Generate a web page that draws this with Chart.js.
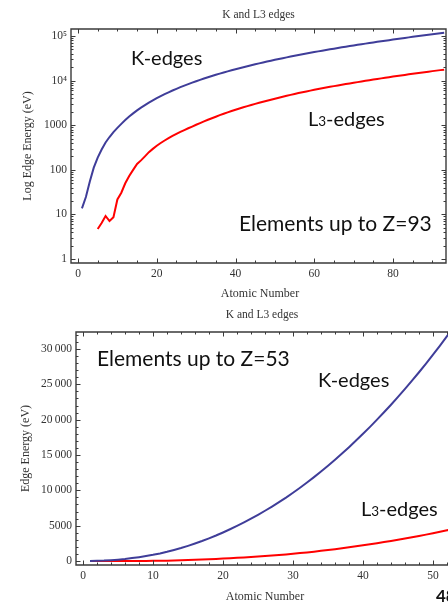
<!DOCTYPE html>
<html><head><meta charset="utf-8">
<script src="https://cdn.jsdelivr.net/npm/chart.js@4/dist/chart.umd.min.js"></script>
<style>
html,body{margin:0;padding:0;background:#fff;overflow:hidden;width:448px;height:604px}
canvas{display:block}
</style></head><body>
<canvas id="topChart" width="448" height="300"></canvas>
<canvas id="bottomChart" width="448" height="304"></canvas>
<script>
// ---------- data ----------
const atomicNumbers = Array.from({length: 93}, (_, i) => i + 1);
const kEdges = [
  13.6, 24.6, 54.7, 111.5, 188, 284.2, 409.9, 543.1, 696.7, 870.2,
  1070.8, 1303, 1559.6, 1839, 2145.5, 2472, 2822.4, 3205.9, 3608.4, 4038.5,
  4492, 4966, 5465, 5989, 6539, 7112, 7709, 8333, 8979, 9659,
  10367, 11103, 11867, 12658, 13474, 14326, 15200, 16105, 17038, 17998,
  18986, 20000, 21044, 22117, 23220, 24350, 25514, 26711, 27940, 29200,
  30491, 31814, 33169, 34561, 35985, 37441, 38925, 40443, 41991, 43569,
  45184, 46834, 48519, 50239, 51996, 53789, 55618, 57486, 59390, 61332,
  63314, 65351, 67416, 69525, 71676, 73871, 76111, 78395, 80725, 83102,
  85530, 88005, 90526, 93105, 95730, 98404, 101137, 103922, 106755, 109651,
  112601, 115606, 118678
];
const l3Edges = [
  null, null, null, null, 4.7, 6.4, 9.2, 7.1, 8.6, 21.6,
  30.6, 49.8, 72.6, 99.4, 135, 162.5, 200, 248.4, 294.6, 346.2,
  398.7, 453.8, 512.1, 574.1, 638.7, 706.8, 778.1, 852.7, 932.7, 1021.8,
  1116.4, 1217, 1323.6, 1433.9, 1550, 1678.4, 1804, 1940, 2080, 2222.3,
  2371, 2520, 2677, 2838, 3004, 3173, 3351, 3538, 3730, 3929,
  4132, 4341, 4557, 4786, 5012, 5247, 5483, 5723, 5964, 6208,
  6459, 6716, 6977, 7243, 7514, 7790, 8071, 8358, 8648, 8944,
  9244, 9561, 9881, 10207, 10535, 10871, 11215, 11564, 11919, 12284,
  12658, 13035, 13419, 13814, 14214, 14619, 15031, 15444, 15871, 16300,
  16733, 17166, 17610
];
// in the linear plot the L3 curve starts at Z=1 on the zero line
const l3EdgesLowZ = [0, 0, 0, 0];

const logTickValues = [1, 10, 100, 1000, 10000, 100000];
const logTickLabels = ['1', '10', '100', '1000', '10\u2074', '10\u2075'];
const linTickValues = [0, 5000, 10000, 15000, 20000, 25000, 30000];
const linTickLabels = ['0', '5000', '10\u2009000', '15\u2009000', '20\u2009000', '25\u2009000', '30\u2009000'];
const topXTickValues = [0, 20, 40, 60, 80];
const bottomXTickValues = [0, 10, 20, 30, 40, 50];

const chartTitle = 'K and L3 edges';
const xTitle = 'Atomic Number';
const topYTitle = 'Log Edge Energy (eV)';
const bottomYTitle = 'Edge Energy (eV)';

// ---------- styles ----------
const INK = '#3a3a3a';
const BLUE = '#3f3d99';
const RED = '#ff0000';
const SERIF = '"Liberation Serif", "DejaVu Serif", serif';
const SANS = 'Lato, "Open Sans", sans-serif';

function range(a, b, step) { const r = []; for (let v = a; v <= b + 1e-9; v += step) r.push(+v.toFixed(6)); return r; }
const topXMinor = range(0, 90, 5).filter(v => v % 20 !== 0);
const bottomXMinor = range(0, 52, 2).filter(v => v % 10 !== 0);
const logMinor = [];
logTickValues.forEach(d => { for (let m = 2; m <= 9; m++) logMinor.push(d * m); });
const linMinor = range(0, 32000, 1000).filter(v => v % 5000 !== 0);

function pts(zs, vs) { return zs.map((z, i) => ({x: z, y: vs[i]})); }

function framePlugin(cfg) {
  return {
    id: 'frame',
    afterDraw(chart) {
      const {ctx, chartArea: a, scales: {x, y}} = chart;
      ctx.save();
      ctx.strokeStyle = INK;
      ctx.lineWidth = 1;
      const MAJ = 4.5, MIN = 2.5;
      const xt = [[cfg.xMajor, MAJ], [cfg.xMinor, MIN]];
      const yt = [[cfg.yMajor, MAJ], [cfg.yMinor, MIN]];
      ctx.beginPath();
      xt.forEach(([vals, len]) => vals.forEach(v => {
        const px = Math.round(x.getPixelForValue(v)) + 0.5;
        if (px < a.left || px > a.right) return;
        ctx.moveTo(px, a.bottom); ctx.lineTo(px, a.bottom - len);
        ctx.moveTo(px, a.top); ctx.lineTo(px, a.top + len);
      }));
      yt.forEach(([vals, len]) => vals.forEach(v => {
        const py = Math.round(y.getPixelForValue(v)) + 0.5;
        if (py < a.top || py > a.bottom) return;
        ctx.moveTo(a.left, py); ctx.lineTo(a.left + len, py);
        if (cfg.right) { ctx.moveTo(a.right, py); ctx.lineTo(a.right - len, py); }
      }));
      ctx.stroke();
      ctx.lineWidth = 1.4;
      ctx.beginPath();
      if (cfg.right) {
        ctx.rect(a.left, a.top, a.right - a.left, a.bottom - a.top);
      } else {
        ctx.moveTo(a.right + 2, a.top); ctx.lineTo(a.left, a.top);
        ctx.lineTo(a.left, a.bottom); ctx.lineTo(a.right + 2, a.bottom);
      }
      ctx.stroke();

      // axis titles
      ctx.fillStyle = '#333';
      ctx.font = '12px ' + SERIF;
      ctx.textAlign = 'center';
      ctx.textBaseline = 'middle';
      ctx.fillText(xTitle, (a.left + a.right) / 2 + cfg.xTitleDx, cfg.xTitleY);
      ctx.save();
      ctx.translate(cfg.yTitleX, (a.top + a.bottom) / 2);
      ctx.rotate(-Math.PI / 2);
      ctx.fillText(cfg.yTitle, 0, 0);
      ctx.restore();

      // annotations
      ctx.fillStyle = '#111';
      ctx.textAlign = 'left';
      ctx.textBaseline = 'alphabetic';
      cfg.notes.forEach(n => {
        let cx = n.x;
        n.parts.forEach(p => {
          ctx.font = (p.bold ? 'bold ' : '') + p.size + 'px ' + (p.family || SANS);
          ctx.fillText(p.t, cx, n.y);
          cx += ctx.measureText(p.t).width;
        });
      });
      ctx.restore();
    }
  };
}

function makeChart(id, o) {
  return new Chart(document.getElementById(id), {
    type: 'line',
    data: {
      datasets: [
        {data: o.k, borderColor: BLUE, borderWidth: 2, pointRadius: 0, tension: 0, fill: false},
        {data: o.l3, borderColor: RED, borderWidth: 2, pointRadius: 0, tension: 0, fill: false}
      ]
    },
    options: {
      responsive: false,
      animation: false,
      devicePixelRatio: 1,
      layout: {padding: {left: 0, right: o.padRight, top: 0, bottom: 0}},
      plugins: {
        legend: {display: false},
        tooltip: {enabled: false},
        title: {
          display: true, text: chartTitle, fullSize: false,
          color: '#333', font: {family: SERIF, size: 11.5, weight: 'normal'},
          padding: o.titlePad
        }
      },
      scales: {
        x: {
          type: 'linear', min: o.xMin, max: o.xMax,
          grid: {display: false, drawTicks: false}, border: {display: false},
          afterBuildTicks: s => { s.ticks = o.xTicks.map(v => ({value: v})); },
          ticks: {color: '#333', font: {family: SERIF, size: 11.5}, padding: 4, maxRotation: 0,
                  callback: v => String(v)},
          afterFit: s => { s.height = o.xHeight; }
        },
        y: {
          type: o.yType, min: o.yMin, max: o.yMax,
          grid: {display: false, drawTicks: false}, border: {display: false},
          afterBuildTicks: s => { s.ticks = o.yTicks.map(v => ({value: v})); },
          ticks: {color: '#333', font: {family: SERIF, size: 11.5}, padding: 4,
                  callback: v => o.yLabels[o.yTicks.indexOf(v)]},
          afterFit: s => { s.width = o.yWidth; }
        }
      }
    },
    plugins: [framePlugin(o.frame)]
  });
}

// top: logarithmic, all elements
makeChart('topChart', {
  k: pts(atomicNumbers, kEdges),
  l3: pts(atomicNumbers, l3Edges),
  xMin: -1.78, xMax: 93.46, xTicks: topXTickValues,
  yType: 'logarithmic', yMin: 0.813, yMax: 143500,
  yTicks: logTickValues, yLabels: logTickLabels,
  padRight: 2, xHeight: 37, yWidth: 71,
  titlePad: {top: 7.6, bottom: 7.6},
  frame: {
    right: true, xMajor: topXTickValues, xMinor: topXMinor,
    yMajor: logTickValues, yMinor: logMinor,
    xTitleY: 294, xTitleDx: 1.5, yTitleX: 28, yTitle: topYTitle,
    notes: [
      {x: 131, y: 65, parts: [{t: 'K-edges', size: 20}]},
      {x: 308, y: 126, parts: [{t: 'L', size: 20}, {t: '3', size: 13.5}, {t: '-edges', size: 20}]},
      {x: 239, y: 231, parts: [{t: 'Elements up to Z=93', size: 21}]}
    ]
  }
});

// bottom: linear, elements up to Z=53
const zLow = atomicNumbers.slice(0, 53);
makeChart('bottomChart', {
  k: pts(zLow, kEdges.slice(0, 53)),
  l3: pts(zLow, l3EdgesLowZ.concat(l3Edges.slice(4, 53))),
  xMin: -1.0, xMax: 52.14, xTicks: bottomXTickValues,
  yType: 'linear', yMin: -566, yMax: 32406,
  yTicks: linTickValues, yLabels: linTickLabels,
  padRight: 0, xHeight: 39, yWidth: 76,
  titlePad: {top: 8, bottom: 10.2},
  frame: {
    right: false, xMajor: bottomXTickValues, xMinor: bottomXMinor,
    yMajor: linTickValues, yMinor: linMinor,
    xTitleY: 297, xTitleDx: 3, yTitleX: 26, yTitle: bottomYTitle,
    notes: [
      {x: 97, y: 66, parts: [{t: 'Elements up to Z=53', size: 21}]},
      {x: 318, y: 87, parts: [{t: 'K-edges', size: 20}]},
      {x: 361, y: 216, parts: [{t: 'L', size: 20}, {t: '3', size: 13.5}, {t: '-edges', size: 20}]},
      {x: 436, y: 302, parts: [{t: '48', size: 17, bold: true}]}
    ]
  }
});
</script>
</body></html>
